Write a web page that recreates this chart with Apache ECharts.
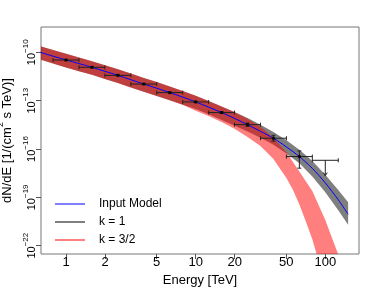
<!DOCTYPE html>
<html><head><meta charset="utf-8">
<script src="https://cdn.jsdelivr.net/npm/echarts@6/dist/echarts.min.js"></script>
<style>html,body{margin:0;padding:0;background:#fff}#c{width:374px;height:289px}</style>
</head><body><div id="c"></div>
<script>
// ---- axis ticks ----
const xTickValues = [1, 2, 5, 10, 20, 50, 100];          // TeV
const yTickExponents = [-22, -19, -16, -13, -10];        // log10 flux

// ---- model curve (Input Model), log10 flux ----
const modelE = [0.631, 0.794, 1, 1.259, 1.585, 1.995, 2.512, 3.162, 3.981, 5.012, 6.31, 7.943, 10, 12.59, 15.85, 19.95, 25.12, 31.62, 39.81, 50.12, 63.1, 79.43, 100, 125.9, 150];
const modelLogFlux = [-10.00, -10.24, -10.47, -10.70, -10.93, -11.18, -11.43, -11.70, -11.97, -12.23, -12.50, -12.78, -13.08, -13.40, -13.74, -14.10, -14.49, -14.90, -15.33, -15.87, -16.47, -17.20, -18.10, -19.15, -20.05];

// ---- k = 1 band ----
const grayUpperLogFlux = [-9.62, -9.86, -10.09, -10.32, -10.55, -10.80, -11.05, -11.32, -11.59, -11.85, -12.12, -12.40, -12.70, -13.02, -13.36, -13.70, -14.08, -14.50, -14.95, -15.45, -16.05, -16.75, -17.60, -18.55, -19.30];
const grayLowerLogFlux = [-10.45, -10.70, -10.94, -11.17, -11.40, -11.65, -11.91, -12.18, -12.45, -12.71, -12.98, -13.26, -13.52, -13.85, -14.20, -14.55, -14.92, -15.30, -15.73, -16.28, -16.88, -17.70, -18.68, -19.80, -20.70];

// ---- k = 3/2 band ----
const redUpperE = [0.631, 0.794, 1, 1.259, 1.585, 1.995, 2.512, 3.162, 3.981, 5.012, 6.31, 7.943, 10, 12.59, 15.85, 19.95, 25.12, 31.62, 39.81, 50.12, 63.1, 69.7, 79.43, 100, 125.9, 141];
const redUpperLogFlux = [-9.62, -9.86, -10.09, -10.32, -10.55, -10.80, -11.05, -11.32, -11.59, -11.85, -12.12, -12.40, -12.70, -13.02, -13.36, -13.72, -14.12, -14.62, -15.30, -16.20, -17.40, -17.92, -18.60, -20.40, -22.55, -23.60];
const redLowerE = [0.631, 0.794, 1, 1.259, 1.585, 1.995, 2.512, 3.162, 3.981, 5.012, 6.31, 7.943, 10, 12.59, 15.85, 19.95, 25.12, 31.62, 39.81, 50.12, 56.23, 63.1, 70.8, 79.43, 85.7, 93.3];
const redLowerLogFlux = [-10.45, -10.70, -10.94, -11.17, -11.40, -11.65, -11.91, -12.18, -12.45, -12.71, -12.98, -13.26, -13.62, -13.95, -14.32, -14.75, -15.25, -15.82, -16.62, -17.80, -18.53, -19.45, -20.50, -21.60, -22.51, -23.40];

// ---- measured points ----
const pointE = [1, 1.585, 2.512, 3.981, 6.31, 10, 15.85, 25.12, 39.81, 63.1];
const pointLogFlux = [-10.48, -10.93, -11.43, -11.97, -12.50, -13.08, -13.74, -14.49, -15.33, -16.47];
const binLoE = [0.794, 1.259, 1.995, 3.162, 5.012, 7.943, 12.59, 19.95, 31.62, 50.12];
const binHiE = [1.259, 1.995, 3.162, 5.012, 7.943, 12.59, 19.95, 31.62, 50.12, 79.43];
const errUpLog = [0.03, 0.03, 0.03, 0.03, 0.03, 0.04, 0.05, 0.10, 0.18, 0.35];
const errDownLog = [0.03, 0.03, 0.03, 0.03, 0.03, 0.04, 0.05, 0.10, 0.18, 0.72];

// ---- upper limit ----
const ulE = [100];
const ulBinLoE = [79.43];
const ulBinHiE = [125.9];
const ulLogFlux = [-16.70];
const ulArrowToLogFlux = [-17.65];

const L = Math.log10;
const FONT = '"Liberation Sans", Arial, Helvetica, sans-serif';

function polygonSeries(name, upE, upF, loE, loF, color, z) {
  const pts = [];
  upE.forEach((e, i) => pts.push([L(e), upF[i]]));
  for (let i = loE.length - 1; i >= 0; i--) pts.push([L(loE[i]), loF[i]]);
  return {
    name, type: 'custom', z, clip: true, silent: true,
    itemStyle: { color },
    data: [[L(upE[2]), upF[2]]],
    renderItem(params, api) {
      return { type: 'polygon', shape: { points: pts.map(p => api.coord(p)) },
        style: { fill: color, stroke: null } };
    }
  };
}

const chart = echarts.init(document.getElementById('c'), null, { renderer: 'canvas' });
const errStroke = { stroke: '#222', lineWidth: 1 };
const cap = 2;

chart.setOption({
  animation: false,
  backgroundColor: '#fff',
  textStyle: { fontFamily: FONT },
  grid: { left: 41, right: 15, top: 27, bottom: 35, show: true, borderColor: '#777', borderWidth: 1,
    containLabel: false, outerBoundsMode: 'none' },
  xAxis: {
    type: 'value', min: -0.193, max: 2.26, scale: true,
    name: 'Energy [TeV]', nameLocation: 'middle', nameGap: 13,
    nameTextStyle: { fontSize: 13, color: '#000', fontFamily: FONT },
    axisLine: { show: false, onZero: false }, splitLine: { show: false },
    axisTick: { show: true, length: 5, customValues: xTickValues.map(L), lineStyle: { color: '#555' } },
    axisLabel: { customValues: xTickValues.map(L), margin: 2, fontSize: 13, color: '#000', fontFamily: FONT,
      formatter: v => String(Math.round(Math.pow(10, v))) }
  },
  yAxis: {
    type: 'value', min: -22.515, max: -8.43, scale: true,
    name: '{a|dN/dE [1/(cm}{s|2}{a| s TeV)]}', nameLocation: 'middle', nameGap: 13, nameRotate: 90,
    nameTextStyle: { color: '#000', fontFamily: FONT, rich: {
      a: { fontSize: 13, color: '#000', fontFamily: FONT, padding: [5, 0, 0, 0], verticalAlign: 'bottom' },
      s: { fontSize: 9, color: '#000', fontFamily: FONT, verticalAlign: 'top' } } },
    axisLine: { show: false, onZero: false }, splitLine: { show: false },
    axisTick: { show: true, length: 5, customValues: yTickExponents, lineStyle: { color: '#555' } },
    axisLabel: { customValues: yTickExponents, rotate: 90, margin: 4, color: '#000', fontFamily: FONT,
      formatter: v => '{b|10}{s|\u2212' + Math.abs(Math.round(v)) + '}',
      rich: {
        b: { fontSize: 11, color: '#000', fontFamily: FONT, padding: [4, 0, 0, 0], verticalAlign: 'bottom' },
        s: { fontSize: 8, color: '#000', fontFamily: FONT, verticalAlign: 'top' } } }
  },
  legend: {
    orient: 'vertical', left: 55, top: 196, padding: 0, itemWidth: 30, itemHeight: 2, itemGap: 2, icon: 'rect',
    textStyle: { fontSize: 12, color: '#000', fontFamily: FONT, lineHeight: 16, padding: [0, 0, 0, 9] },
    data: [
      { name: 'Input Model', itemStyle: { color: '#8080ff' } },
      { name: 'k = 1', itemStyle: { color: '#808080' } },
      { name: 'k = 3/2', itemStyle: { color: '#ff8080' } }
    ]
  },
  series: [
    polygonSeries('k = 1', modelE, grayUpperLogFlux, modelE, grayLowerLogFlux, 'rgba(0,0,0,0.5)', 1),
    polygonSeries('k = 3/2', redUpperE, redUpperLogFlux, redLowerE, redLowerLogFlux, 'rgba(255,0,0,0.5)', 2),
    {
      name: 'Input Model', type: 'line', z: 3, smooth: 0.3, showSymbol: false, silent: true,
      lineStyle: { color: '#0000ff', width: 1 }, itemStyle: { color: '#0000ff' },
      data: modelE.map((e, i) => [L(e), modelLogFlux[i]])
    },
    {
      name: 'errors', type: 'custom', z: 4, silent: true,
      data: pointE.map((e, i) => [L(e), pointLogFlux[i], L(binLoE[i]), L(binHiE[i]), pointLogFlux[i] + errUpLog[i], pointLogFlux[i] - errDownLog[i]]),
      renderItem(params, api) {
        const pl = api.coord([api.value(2), api.value(1)]);
        const pr = api.coord([api.value(3), api.value(1)]);
        const pt = api.coord([api.value(0), api.value(4)]);
        const pb = api.coord([api.value(0), api.value(5)]);
        return { type: 'group', children: [
          { type: 'line', shape: { x1: pl[0], y1: pl[1], x2: pr[0], y2: pr[1] }, style: errStroke },
          { type: 'line', shape: { x1: pl[0], y1: pl[1] - cap, x2: pl[0], y2: pl[1] + cap }, style: errStroke },
          { type: 'line', shape: { x1: pr[0], y1: pr[1] - cap, x2: pr[0], y2: pr[1] + cap }, style: errStroke },
          { type: 'line', shape: { x1: pt[0], y1: pt[1], x2: pb[0], y2: pb[1] }, style: errStroke },
          { type: 'line', shape: { x1: pt[0] - cap, y1: pt[1], x2: pt[0] + cap, y2: pt[1] }, style: errStroke },
          { type: 'line', shape: { x1: pb[0] - cap, y1: pb[1], x2: pb[0] + cap, y2: pb[1] }, style: errStroke }
        ] };
      }
    },
    {
      name: 'upper limit', type: 'custom', z: 4, silent: true,
      data: ulE.map((e, i) => [L(e), ulLogFlux[i], L(ulBinLoE[i]), L(ulBinHiE[i]), ulArrowToLogFlux[i]]),
      renderItem(params, api) {
        const pl = api.coord([api.value(2), api.value(1)]);
        const pr = api.coord([api.value(3), api.value(1)]);
        const pt = api.coord([api.value(0), api.value(1)]);
        const pb = api.coord([api.value(0), api.value(4)]);
        return { type: 'group', children: [
          { type: 'line', shape: { x1: pl[0], y1: pl[1], x2: pr[0], y2: pr[1] }, style: errStroke },
          { type: 'line', shape: { x1: pl[0], y1: pl[1] - cap, x2: pl[0], y2: pl[1] + cap }, style: errStroke },
          { type: 'line', shape: { x1: pr[0], y1: pr[1] - cap, x2: pr[0], y2: pr[1] + cap }, style: errStroke },
          { type: 'line', shape: { x1: pt[0], y1: pt[1], x2: pb[0], y2: pb[1] }, style: errStroke },
          { type: 'polyline', shape: { points: [[pb[0] - 2, pb[1] - 3], [pb[0], pb[1]], [pb[0] + 2, pb[1] - 3]] }, style: { stroke: '#222', lineWidth: 1, fill: null } }
        ] };
      }
    },
    {
      name: 'points', type: 'scatter', z: 5, silent: true, symbol: 'rect', symbolSize: 3,
      itemStyle: { color: '#000' },
      data: pointE.map((e, i) => [L(e), pointLogFlux[i]])
    }
  ]
});
</script></body></html>
